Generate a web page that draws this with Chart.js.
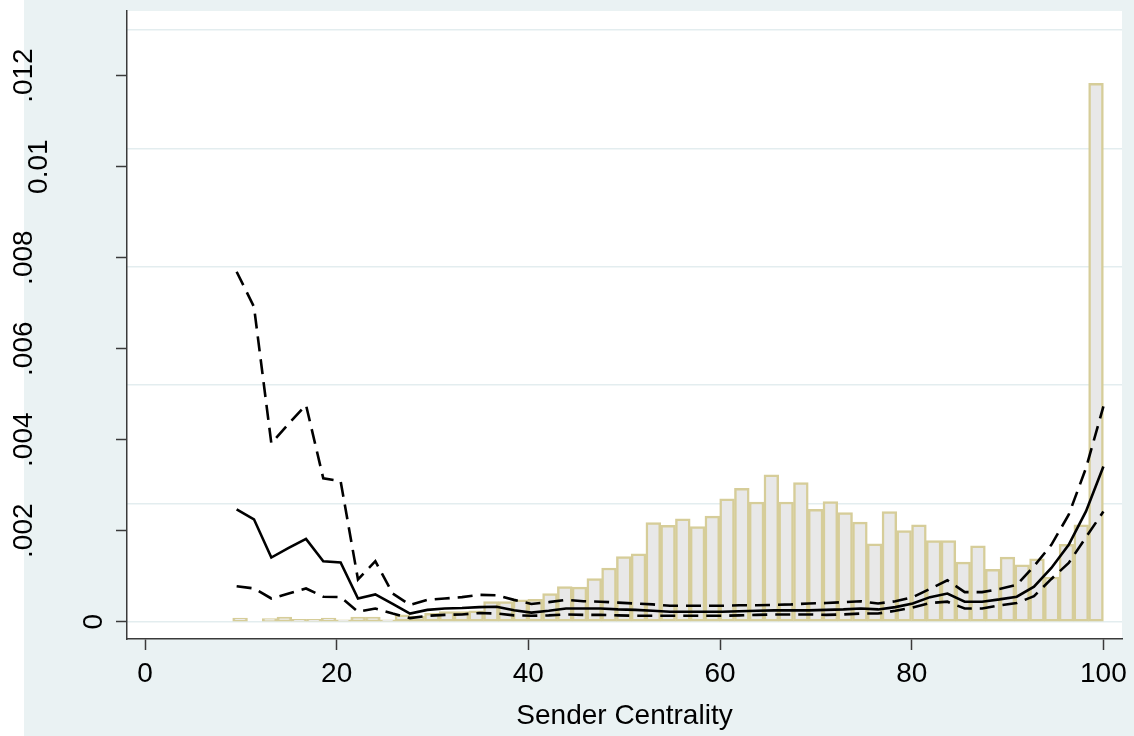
<!DOCTYPE html>
<html>
<head>
<meta charset="utf-8">
<script src="https://cdn.jsdelivr.net/npm/chart.js@4.4.0/dist/chart.umd.min.js"></script>
<style>
    html, body { margin: 0; padding: 0; background: #fff; }
    #wrap { position: relative; width: 1134px; height: 736px; overflow: hidden; }
    #bg { position: absolute; left: 24px; top: 0; right: 0; bottom: 0; background: #EAF2F3; }
    #chart { position: absolute; left: 0; top: 0; }
</style>
</head>
<body>
<div id="wrap">
    <div id="bg"></div>
    <canvas id="chart" width="1134" height="736"></canvas>
</div>
<script>
// Histogram of sender centrality (bins from binStart, width binWidth)
const binStart = 9.15;
const binWidth = 1.5398;
const histHeights = [
    0.00008, 0, 0.00007, 0.0001, 0.00005, 0.00005, 0.00008, 0.00004, 0.0001, 0.0001,
    0.00004, 0.00015, 0.000125, 0.000185, 0.00022, 0.00022, 0.00024, 0.00044, 0.00044, 0.00048,
    0.00049, 0.00062, 0.00077, 0.00076, 0.00095, 0.00118, 0.00143, 0.00149, 0.00218, 0.00212,
    0.00226, 0.00209, 0.00232, 0.0027, 0.00293, 0.00263, 0.00323, 0.00263, 0.00306, 0.00247,
    0.00264, 0.0024, 0.00219, 0.00171, 0.00242, 0.002, 0.00213, 0.00178, 0.00178, 0.00131,
    0.00167, 0.00115, 0.00142, 0.00125, 0.00138, 0.00098, 0.0017, 0.00213, 0.01183
];

// Estimate and confidence band
const lineX = [
    9.56, 11.37, 13.18, 14.99, 16.80, 18.60, 20.41, 22.22, 24.03, 25.84,
    27.65, 29.46, 31.27, 33.07, 34.88, 36.69, 38.50, 40.31, 42.12, 43.93,
    45.74, 47.54, 49.35, 51.16, 52.97, 54.78, 56.59, 58.40, 60.21, 62.02,
    63.82, 65.63, 67.44, 69.25, 71.06, 72.87, 74.68, 76.49, 78.29, 80.10,
    81.91, 83.72, 85.53, 87.34, 89.15, 90.96, 92.76, 94.57, 96.38, 98.19,
    100
];
const estimate = [
    0.00247, 0.00225, 0.00141, 0.00162, 0.00182, 0.00133, 0.0013, 0.00051, 0.0006, 0.00039,
    0.00018, 0.00026, 0.00029, 0.0003, 0.00032, 0.00033, 0.00025, 0.0002, 0.00024, 0.00029,
    0.00029, 0.00029, 0.00027, 0.00026, 0.00024, 0.00022, 0.00022, 0.00022, 0.00022, 0.00023,
    0.00024, 0.00025, 0.00025, 0.00025, 0.00026, 0.00027, 0.00029, 0.00027, 0.00032, 0.0004,
    0.00054, 0.00062, 0.00044, 0.00044, 0.00049, 0.00055, 0.00077, 0.00118, 0.00169, 0.00243,
    0.00341
];
const upperCI = [
    0.00769, 0.00692, 0.00392, 0.00435, 0.00476, 0.00315, 0.00309, 0.00093, 0.00133, 0.00062,
    0.00037, 0.00048, 0.00051, 0.00054, 0.00059, 0.00058, 0.00048, 0.00039, 0.00043, 0.00048,
    0.00045, 0.00044, 0.00042, 0.0004, 0.00038, 0.00035, 0.00035, 0.00035, 0.00035, 0.00036,
    0.00036, 0.00037, 0.00038, 0.0004, 0.00041, 0.00043, 0.00045, 0.0004, 0.00045, 0.00054,
    0.00072, 0.00091, 0.00065, 0.00065, 0.00072, 0.00081, 0.00122, 0.00169, 0.00235, 0.00338,
    0.00473
];
const lowerCI = [
    0.00078, 0.00073, 0.00051, 0.00062, 0.00073, 0.00055, 0.00054, 0.00022, 0.00029, 0.00018,
    0.00008, 0.00013, 0.00015, 0.00016, 0.00019, 0.00018, 0.00014, 0.00013, 0.00014, 0.00016,
    0.00015, 0.00015, 0.00014, 0.00013, 0.00013, 0.00013, 0.00013, 0.00013, 0.00013, 0.00014,
    0.00015, 0.00016, 0.00016, 0.00016, 0.00015, 0.00016, 0.00018, 0.00018, 0.00024, 0.00031,
    0.00041, 0.00044, 0.00029, 0.00029, 0.00036, 0.00041, 0.00056, 0.00094, 0.00129, 0.00186,
    0.00242
];

// Axes
const xTicks = [0, 20, 40, 60, 80, 100];
const yTicks = [0, 0.002, 0.004, 0.006, 0.008, 0.01, 0.012];
const yTickLabels = ['0', '.002', '.004', '.006', '.008', '0.01', '.012'];
const gridValues = [0, 0.0026, 0.0052, 0.0078, 0.0104, 0.013];
const xTitle = 'Sender Centrality';

const FONT = "'Liberation Sans', Arial, Helvetica, sans-serif";
const AXIS_COLOR = '#3a3a3a';
Chart.defaults.font.family = FONT;
Chart.defaults.color = '#000';

const toPoints = (xs, ys) => xs.map((x, i) => ({ x: x, y: ys[i] }));

// white plot region
const plotBg = {
    id: 'plotBg',
    beforeDraw(chart) {
        const { ctx, chartArea: a } = chart;
        ctx.save();
        ctx.fillStyle = '#fff';
        ctx.fillRect(a.left, a.top, a.right - a.left, a.bottom - a.top);
        ctx.restore();
    }
};

// vertical y tick labels, placed like the Stata original
const yLabels = {
    id: 'yLabels',
    afterDraw(chart) {
        const { ctx } = chart;
        const scale = chart.scales.y;
        const centreX = { '0': 94, '0.01': 39 };
        ctx.save();
        ctx.font = '28px ' + FONT;
        ctx.fillStyle = '#000';
        ctx.textAlign = 'center';
        ctx.textBaseline = 'middle';
        yTicks.forEach((v, i) => {
            const label = yTickLabels[i];
            const x = centreX[label] !== undefined ? centreX[label] : 24;
            const y = scale.getPixelForValue(v);
            ctx.save();
            ctx.translate(x, y);
            ctx.rotate(-Math.PI / 2);
            ctx.fillText(label, 0, 0);
            ctx.restore();
        });
        ctx.restore();
    }
};

new Chart(document.getElementById('chart'), {
    type: 'bar',
    data: {
        datasets: [
            {
                type: 'line',
                data: toPoints(lineX, upperCI),
                borderColor: '#000',
                borderWidth: 2.6,
                borderDash: [15, 8],
                pointRadius: 0,
                tension: 0,
                order: 0
            },
            {
                type: 'line',
                data: toPoints(lineX, estimate),
                borderColor: '#000',
                borderWidth: 2.6,
                pointRadius: 0,
                tension: 0,
                order: 0
            },
            {
                type: 'line',
                data: toPoints(lineX, lowerCI),
                borderColor: '#000',
                borderWidth: 2.6,
                borderDash: [15, 8],
                pointRadius: 0,
                tension: 0,
                order: 0
            },
            {
                type: 'bar',
                data: histHeights.map((h, i) => ({ x: binStart + binWidth * (i + 0.5), y: h > 0 ? h : null })),
                backgroundColor: '#E8E8E8',
                borderColor: '#D6CD99',
                borderWidth: 2.5,
                borderSkipped: false,
                barPercentage: 1,
                categoryPercentage: 1,
                order: 10
            }
        ]
    },
    options: {
        responsive: false,
        animation: false,
        layout: { padding: { top: 11, right: 12, left: 0, bottom: 0 } },
        plugins: {
            legend: { display: false },
            tooltip: { enabled: false }
        },
        scales: {
            x: {
                type: 'linear',
                min: -1.88,
                max: 101.94,
                offset: false,
                afterBuildTicks: s => { s.ticks = xTicks.map(v => ({ value: v })); },
                afterFit: s => { s.height = 97; },
                ticks: {
                    font: { size: 28 },
                    color: '#000',
                    padding: 7,
                    maxRotation: 0
                },
                grid: {
                    offset: false,
                    drawOnChartArea: false,
                    tickLength: 11,
                    tickWidth: 1.5,
                    tickColor: AXIS_COLOR
                },
                border: { color: AXIS_COLOR, width: 1.5 },
                title: {
                    display: true,
                    text: xTitle,
                    font: { size: 28 },
                    color: '#000',
                    padding: { top: 0, bottom: 3 }
                }
            },
            y: {
                type: 'linear',
                position: 'left',
                min: -0.00038,
                max: 0.01342,
                afterBuildTicks: s => { s.ticks = yTicks.map(v => ({ value: v })); },
                afterFit: s => { s.width = 127; },
                ticks: { display: false },
                grid: {
                    drawOnChartArea: false,
                    tickLength: 11,
                    tickWidth: 1.5,
                    tickColor: AXIS_COLOR
                },
                border: { color: AXIS_COLOR, width: 1.5 }
            },
            gy: {
                type: 'linear',
                position: 'left',
                min: -0.00038,
                max: 0.01342,
                afterBuildTicks: s => { s.ticks = gridValues.map(v => ({ value: v })); },
                afterFit: s => { s.width = 0; },
                ticks: { display: false },
                grid: {
                    color: '#E3EDEF',
                    lineWidth: 1.5,
                    drawTicks: false
                },
                border: { display: false }
            }
        }
    },
    plugins: [plotBg, yLabels]
});
</script>
</body>
</html>
